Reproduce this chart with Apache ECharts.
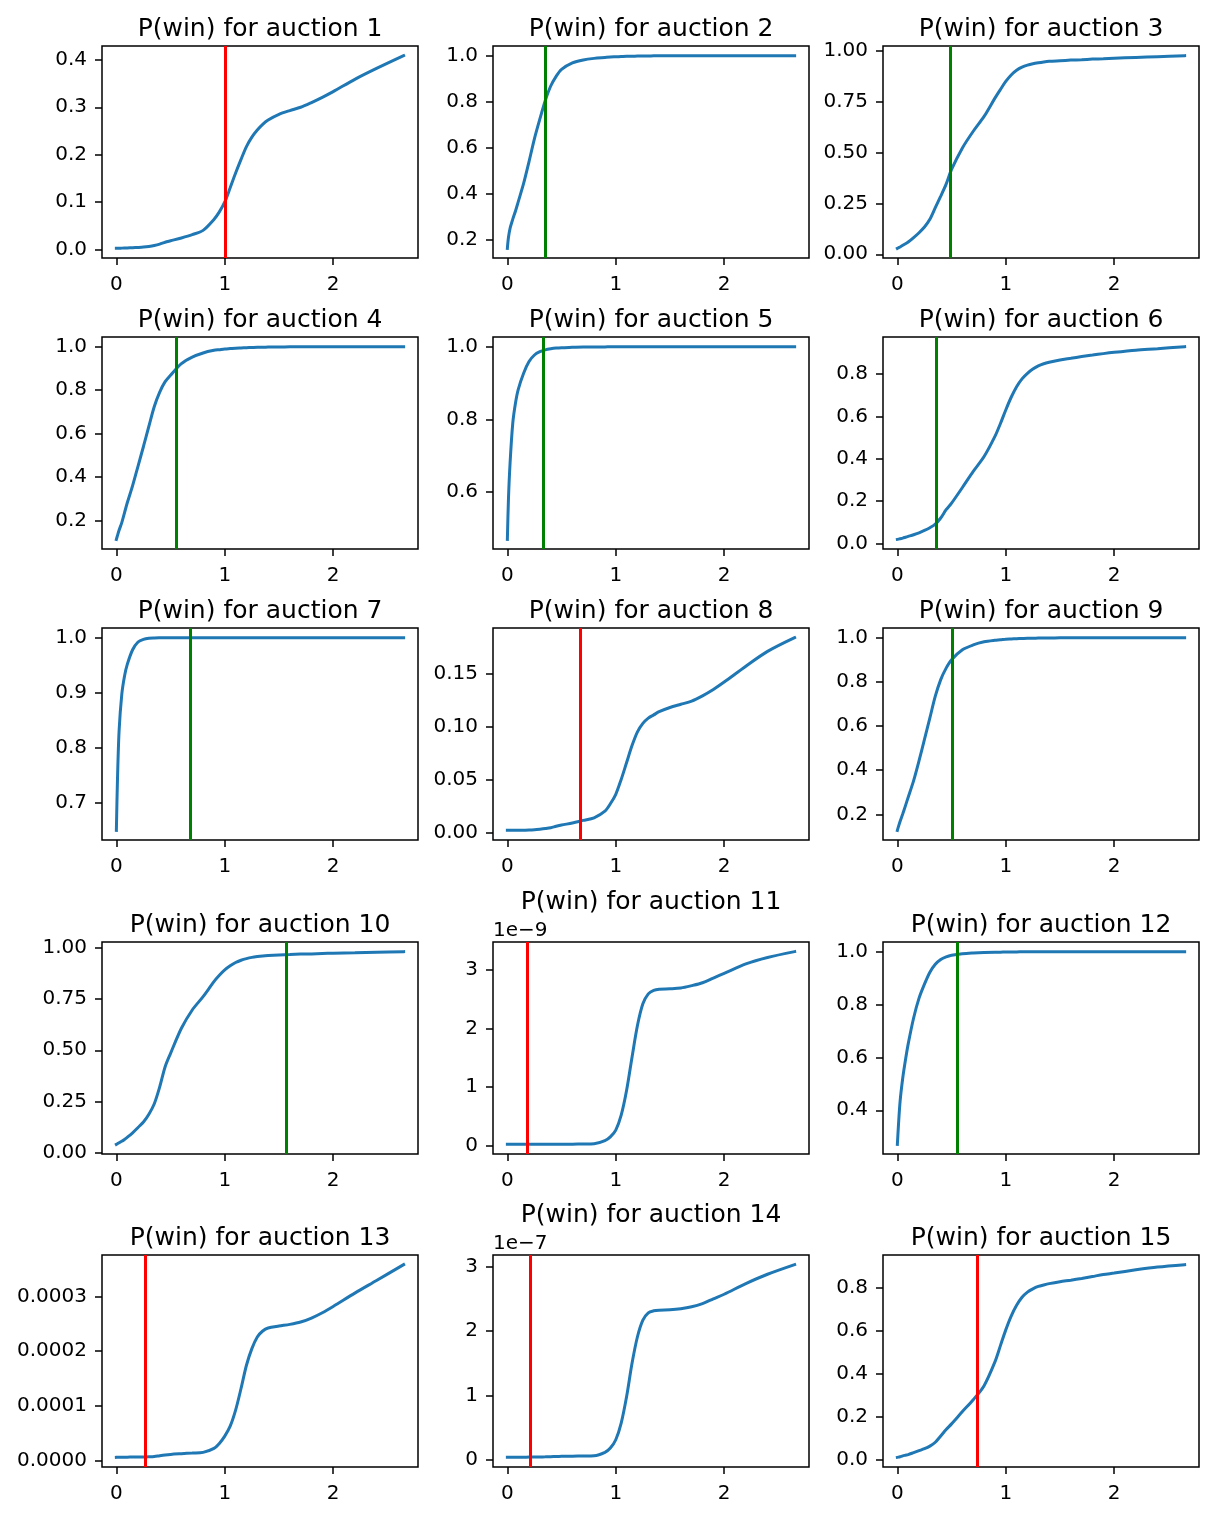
<!DOCTYPE html>
<html><head><meta charset="utf-8">
<script src="https://cdn.jsdelivr.net/npm/echarts@6/dist/echarts.min.js"></script>
<style>html,body{margin:0;padding:0;background:#fff}#c{width:1214px;height:1517px}</style>
</head><body><div id="c"></div>
<script>
// shared bid grid (x values)
const X = [0, 0.01, 0.025, 0.05, 0.075, 0.1, 0.15, 0.2, 0.25, 0.3, 0.35, 0.4, 0.45, 0.5, 0.6, 0.7, 0.8, 0.9, 0.95, 1.0, 1.05, 1.1, 1.15, 1.2, 1.25, 1.3, 1.35, 1.4, 1.5, 1.6, 1.7, 1.8, 1.9, 2.0, 2.2, 2.4, 2.65];

const auction1 = [0.002, 0.002, 0.002, 0.0025, 0.0028, 0.003, 0.0035, 0.004, 0.0047, 0.006, 0.008, 0.011, 0.015, 0.018, 0.024, 0.031, 0.040, 0.063, 0.079, 0.100, 0.130, 0.161, 0.190, 0.217, 0.237, 0.252, 0.264, 0.273, 0.285, 0.293, 0.300, 0.310, 0.321, 0.333, 0.359, 0.382, 0.409];
const auction2 = [0.163, 0.21, 0.25, 0.29, 0.325, 0.365, 0.445, 0.54, 0.64, 0.725, 0.805, 0.868, 0.91, 0.94, 0.968, 0.981, 0.988, 0.992, 0.994, 0.995, 0.996, 0.997, 0.997, 0.998, 0.998, 0.998, 0.999, 0.999, 0.999, 0.999, 0.999, 0.9995, 0.9995, 0.9995, 0.9997, 0.9998, 0.9999];
const auction3 = [0.029, 0.032, 0.036, 0.044, 0.052, 0.060, 0.082, 0.106, 0.134, 0.172, 0.229, 0.286, 0.345, 0.417, 0.523, 0.605, 0.678, 0.768, 0.810, 0.850, 0.882, 0.905, 0.920, 0.930, 0.937, 0.942, 0.946, 0.949, 0.952, 0.955, 0.957, 0.960, 0.962, 0.964, 0.968, 0.972, 0.977];
const auction4 = [0.113, 0.13, 0.155, 0.19, 0.235, 0.28, 0.36, 0.45, 0.54, 0.633, 0.724, 0.79, 0.838, 0.868, 0.921, 0.951, 0.970, 0.982, 0.985, 0.988, 0.990, 0.992, 0.993, 0.994, 0.995, 0.996, 0.996, 0.997, 0.997, 0.998, 0.998, 0.998, 0.998, 0.999, 0.999, 0.999, 0.999];
const auction5 = [0.47, 0.58, 0.68, 0.79, 0.845, 0.882, 0.927, 0.959, 0.977, 0.986, 0.991, 0.994, 0.996, 0.997, 0.998, 0.999, 0.999, 0.9993, 0.9994, 0.9995, 0.9996, 0.9996, 0.9997, 0.9997, 0.9998, 0.9998, 0.9998, 0.9998, 0.9999, 0.9999, 0.9999, 0.9999, 0.9999, 1.0, 1.0, 1.0, 1.0];
const auction6 = [0.019, 0.020, 0.022, 0.025, 0.029, 0.033, 0.041, 0.050, 0.061, 0.074, 0.091, 0.120, 0.159, 0.190, 0.264, 0.340, 0.410, 0.505, 0.565, 0.630, 0.690, 0.740, 0.777, 0.803, 0.823, 0.838, 0.848, 0.855, 0.866, 0.874, 0.882, 0.889, 0.896, 0.902, 0.912, 0.919, 0.929];
const auction7 = [0.65, 0.74, 0.83, 0.897, 0.93, 0.951, 0.978, 0.992, 0.997, 0.999, 0.9995, 0.9997, 0.9998, 0.9999, 0.9999, 1, 1, 1, 1, 1, 1, 1, 1, 1, 1, 1, 1, 1, 1, 1, 1, 1, 1, 1, 1, 1, 1];
const auction8 = [0.0019, 0.0019, 0.0019, 0.0020, 0.0020, 0.0020, 0.0021, 0.0022, 0.0025, 0.0030, 0.0036, 0.0044, 0.0058, 0.0070, 0.0088, 0.0113, 0.0138, 0.0200, 0.0270, 0.0360, 0.0500, 0.0660, 0.0820, 0.0950, 0.1030, 0.1080, 0.1110, 0.1140, 0.1180, 0.1210, 0.1240, 0.1290, 0.1350, 0.1420, 0.1570, 0.1710, 0.1840];
const auction9 = [0.128, 0.145, 0.168, 0.203, 0.24, 0.278, 0.353, 0.443, 0.54, 0.637, 0.735, 0.81, 0.862, 0.90, 0.945, 0.967, 0.981, 0.988, 0.990, 0.993, 0.994, 0.995, 0.996, 0.997, 0.997, 0.998, 0.998, 0.998, 0.999, 0.999, 0.999, 0.999, 0.9995, 0.9995, 0.9997, 0.9998, 0.9999];
const auction10 = [0.042, 0.045, 0.050, 0.057, 0.066, 0.076, 0.098, 0.124, 0.151, 0.189, 0.240, 0.322, 0.420, 0.485, 0.607, 0.696, 0.761, 0.834, 0.865, 0.891, 0.911, 0.927, 0.938, 0.946, 0.952, 0.956, 0.959, 0.961, 0.964, 0.966, 0.968, 0.969, 0.971, 0.972, 0.974, 0.977, 0.980];
// auction 11 in units of 1e-9
const auction11 = [0.023, 0.023, 0.023, 0.024, 0.024, 0.024, 0.024, 0.025, 0.025, 0.025, 0.026, 0.026, 0.026, 0.027, 0.027, 0.028, 0.032, 0.085, 0.15, 0.266, 0.52, 0.945, 1.51, 2.05, 2.42, 2.59, 2.65, 2.67, 2.677, 2.69, 2.73, 2.78, 2.86, 2.94, 3.10, 3.21, 3.31];
const auction12 = [0.271, 0.343, 0.433, 0.523, 0.591, 0.651, 0.749, 0.824, 0.877, 0.922, 0.952, 0.970, 0.980, 0.986, 0.992, 0.995, 0.997, 0.998, 0.998, 0.999, 0.999, 0.999, 0.9993, 0.9994, 0.9995, 0.9995, 0.9996, 0.9996, 0.9997, 0.9997, 0.9998, 0.9998, 0.9998, 0.9999, 0.9999, 0.9999, 1.0];
// auction 13 in units of 1e-4
const auction13 = [0.061, 0.062, 0.063, 0.064, 0.065, 0.065, 0.066, 0.067, 0.068, 0.070, 0.075, 0.091, 0.105, 0.115, 0.128, 0.140, 0.152, 0.225, 0.316, 0.449, 0.630, 0.923, 1.318, 1.743, 2.046, 2.259, 2.368, 2.423, 2.459, 2.489, 2.532, 2.605, 2.702, 2.817, 3.060, 3.290, 3.580];
// auction 14 in units of 1e-7
const auction14 = [0.036, 0.036, 0.037, 0.037, 0.038, 0.038, 0.039, 0.040, 0.041, 0.042, 0.044, 0.047, 0.050, 0.052, 0.055, 0.056, 0.060, 0.114, 0.181, 0.310, 0.569, 0.983, 1.500, 1.914, 2.173, 2.287, 2.318, 2.328, 2.333, 2.349, 2.380, 2.431, 2.504, 2.576, 2.742, 2.887, 3.037];
const auction15 = [0.013, 0.014, 0.016, 0.020, 0.023, 0.026, 0.035, 0.044, 0.053, 0.065, 0.083, 0.112, 0.142, 0.168, 0.225, 0.280, 0.345, 0.455, 0.529, 0.603, 0.667, 0.717, 0.754, 0.778, 0.793, 0.804, 0.811, 0.817, 0.826, 0.833, 0.841, 0.850, 0.859, 0.866, 0.881, 0.894, 0.905];

const xTicks = [0, 1, 2];
const yTicks1 = [0, 0.1, 0.2, 0.3, 0.4];
const yTicks2 = [0.2, 0.4, 0.6, 0.8, 1.0];
const yTicks3 = [0, 0.25, 0.5, 0.75, 1.0];
const yTicks4 = [0.2, 0.4, 0.6, 0.8, 1.0];
const yTicks5 = [0.6, 0.8, 1.0];
const yTicks6 = [0, 0.2, 0.4, 0.6, 0.8];
const yTicks7 = [0.7, 0.8, 0.9, 1.0];
const yTicks8 = [0, 0.05, 0.1, 0.15];
const yTicks9 = [0.2, 0.4, 0.6, 0.8, 1.0];
const yTicks10 = [0, 0.25, 0.5, 0.75, 1.0];
const yTicks11 = [0, 1, 2, 3];
const yTicks12 = [0.4, 0.6, 0.8, 1.0];
const yTicks13 = [0, 1, 2, 3];
const yTicks14 = [0, 1, 2, 3];
const yTicks15 = [0, 0.2, 0.4, 0.6, 0.8];

const tickDecimals = [1, 1, 2, 1, 1, 1, 1, 2, 1, 2, 0, 1, 4, 0, 1];
const tickScale = [1, 1, 1, 1, 1, 1, 1, 1, 1, 1, 1, 1, 1e-4, 1, 1];
const offsetText = ['', '', '', '', '', '', '', '', '', '', '1e\u22129', '', '', '1e\u22127', ''];
const vlineX = [1.0, 0.354, 0.486, 0.554, 0.325, 0.36, 0.675, 0.668, 0.506, 1.566, 0.178, 0.545, 0.274, 0.214, 0.74];
const vlineColor = ['red', 'green', 'green', 'green', 'green', 'green', 'green', 'red', 'green', 'green', 'red', 'green', 'red', 'red', 'red'];

const curves = [auction1, auction2, auction3, auction4, auction5, auction6, auction7, auction8, auction9, auction10, auction11, auction12, auction13, auction14, auction15];
const yTicks = [yTicks1, yTicks2, yTicks3, yTicks4, yTicks5, yTicks6, yTicks7, yTicks8, yTicks9, yTicks10, yTicks11, yTicks12, yTicks13, yTicks14, yTicks15];

const FONT = 'DejaVu Sans';
const colLeft = [102, 493, 883], rowTop = [46, 337, 628, 942, 1255], W = 316, H = 212;

const xMin = Math.min(...X), xMax = Math.max(...X), xPad = 0.05 * (xMax - xMin);
const grids = [], xAxes = [], yAxes = [], series = [], graphics = [];

curves.forEach((ys, i) => {
  const r = Math.floor(i / 3), c = i % 3;
  const left = colLeft[c], top = rowTop[r];
  grids.push({left, top, width: W, height: H, show: true, borderColor: '#000', borderWidth: 1.5, backgroundColor: 'transparent', containLabel: false});
  const lo = Math.min(...ys), hi = Math.max(...ys), pad = 0.05 * (hi - lo);
  xAxes.push({
    gridIndex: i, type: 'value', min: xMin - xPad, max: xMax + xPad,
    axisLine: {show: false, onZero: false}, splitLine: {show: false},
    axisTick: {show: true, length: 7, lineStyle: {color: '#000', width: 1.5}, customValues: xTicks},
    axisLabel: {customValues: xTicks, margin: 17, fontSize: 20, fontFamily: FONT, color: '#000', formatter: v => String(Math.round(v))}
  });
  const dec = tickDecimals[i], sc = tickScale[i];
  yAxes.push({
    gridIndex: i, type: 'value', min: lo - pad, max: hi + pad,
    axisLine: {show: false, onZero: false}, splitLine: {show: false},
    axisTick: {show: true, length: 7, lineStyle: {color: '#000', width: 1.5}, customValues: yTicks[i]},
    axisLabel: {customValues: yTicks[i], margin: 15, fontSize: 20, fontFamily: FONT, color: '#000', formatter: v => (v * sc).toFixed(dec)}
  });
  series.push({
    type: 'line', xAxisIndex: i, yAxisIndex: i,
    data: X.map((x, k) => [x, ys[k]]),
    showSymbol: false, symbol: 'none', smooth: 0.3, silent: true,
    lineStyle: {color: '#1f77b4', width: 3, cap: 'square'},
    markLine: {silent: true, symbol: ['none', 'none'], label: {show: false}, animation: false,
      lineStyle: {color: vlineColor[i], width: 3, type: 'solid'}, emphasis: {disabled: true},
      data: [{xAxis: vlineX[i]}]}
  });
  const hasOffset = offsetText[i] !== '';
  graphics.push({type: 'text', x: left + W / 2, y: top - (hasOffset ? 40 : 17),
    style: {text: 'P(win) for auction ' + (i + 1), font: '25px "' + FONT + '"', fill: '#000', align: 'center', verticalAlign: 'middle'}});
  if (hasOffset) {
    graphics.push({type: 'text', x: left, y: top - 11,
      style: {text: offsetText[i], font: '20px "' + FONT + '"', fill: '#000', align: 'left', verticalAlign: 'middle'}});
  }
});

const chart = echarts.init(document.getElementById('c'), null, {renderer: 'canvas'});
chart.setOption({animation: false, backgroundColor: '#fff', grid: grids, xAxis: xAxes, yAxis: yAxes, series, graphic: graphics});
</script></body></html>
